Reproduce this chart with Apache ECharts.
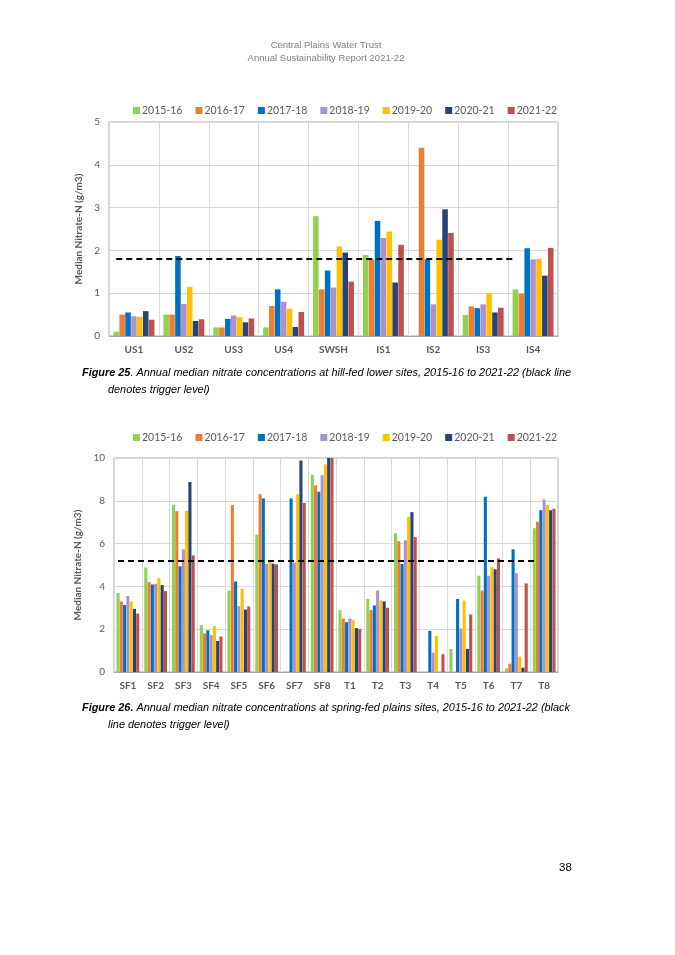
<!DOCTYPE html>
<html>
<head>
<meta charset="utf-8">
<script src="https://cdn.jsdelivr.net/npm/echarts@6/dist/echarts.min.js"></script>
<style>
html,body{margin:0;padding:0;background:#fff;}
#page{width:675px;height:955px;}
</style>
</head>
<body>
<div id="page"></div>
<script>
// ---- Data ----
const years = ['2015-16','2016-17','2017-18','2018-19','2019-20','2020-21','2021-22'];
const colors = ['#92D050','#ED7D31','#0070C0','#A993CF','#FFC000','#264478','#C0504D'];

// Figure 25: hill-fed lower sites
const sites1 = ['US1','US2','US3','US4','SWSH','IS1','IS2','IS3','IS4'];
const v1_2015 = [0.1, 0.5, 0.2, 0.2, 2.8, 1.89, null, 0.49, 1.09];
const v1_2016 = [0.5, 0.5, 0.2, 0.7, 1.09, 1.79, 4.4, 0.69, 0.99];
const v1_2017 = [0.55, 1.87, 0.4, 1.09, 1.53, 2.69, 1.79, 0.65, 2.05];
const v1_2018 = [0.46, 0.75, 0.48, 0.8, 1.13, 2.29, 0.74, 0.74, 1.79];
const v1_2019 = [0.45, 1.15, 0.44, 0.64, 2.09, 2.44, 2.25, 1.0, 1.8];
const v1_2020 = [0.58, 0.35, 0.32, 0.21, 1.95, 1.25, 2.96, 0.55, 1.41];
const v1_2021 = [0.38, 0.39, 0.41, 0.56, 1.27, 2.13, 2.41, 0.66, 2.06];
const trigger1 = 1.8;
const yTicks1 = {min: 0, max: 5, interval: 1};

// Figure 26: spring-fed plains sites
const sites2 = ['SF1','SF2','SF3','SF4','SF5','SF6','SF7','SF8','T1','T2','T3','T4','T5','T6','T7','T8'];
const v2_2015 = [3.69, 4.89, 7.81, 2.19, 3.8, 6.41, null, 9.22, 2.89, 3.41, 6.48, null, 1.08, 4.5, 0.17, 6.72];
const v2_2016 = [3.3, 4.2, 7.52, 1.8, 7.81, 8.31, null, 8.72, 2.5, 2.89, 6.11, null, null, 3.81, 0.39, 7.02];
const v2_2017 = [3.13, 4.09, 4.94, 1.95, 4.23, 8.11, 8.11, 8.42, 2.33, 3.11, 5.05, 1.92, 3.41, 8.19, 5.73, 7.56];
const v2_2018 = [3.55, 4.12, 5.73, 1.72, 3.08, 5.05, 5.12, 9.2, 2.5, 3.81, 6.16, 0.91, 2.03, 4.5, 4.62, 8.06];
const v2_2019 = [3.3, 4.38, 7.53, 2.14, 3.89, 5.16, 8.31, 9.7, 2.42, 3.34, 7.25, 1.69, 3.34, 4.89, 0.72, 7.81];
const v2_2020 = [2.95, 4.06, 8.88, 1.45, 2.92, 5.06, 9.88, 10.0, 2.05, 3.3, 7.47, null, 1.08, 4.8, 0.2, 7.56];
const v2_2021 = [2.73, 3.78, 5.45, 1.66, 3.06, 5.03, 7.9, 10.0, 2.02, 3.0, 6.3, 0.83, 2.69, 5.31, 4.14, 7.63];
const trigger2 = 5.2;
const yTicks2 = {min: 0, max: 10, interval: 2};

const data1 = [v1_2015, v1_2016, v1_2017, v1_2018, v1_2019, v1_2020, v1_2021];
const data2 = [v2_2015, v2_2016, v2_2017, v2_2018, v2_2019, v2_2020, v2_2021];

// ---- Chart ----
const chart = echarts.init(document.getElementById('page'), null, {renderer: 'canvas'});
const FONT = 'Lato, "Open Sans", sans-serif';
const axisGrey = '#595959';

function xAxisCfg(gridIndex, cats) {
  return {
    type: 'category', gridIndex, data: cats,
    axisLine: {show: true, lineStyle: {color: '#A6A6A6', width: 1}},
    axisTick: {show: false},
    axisLabel: {color: axisGrey, fontSize: 10, fontWeight: 'bold', fontFamily: FONT, margin: 9, interval: 0},
    splitLine: {show: true, interval: 0, lineStyle: {color: '#D9D9D9', width: 1}}
  };
}
function yAxisCfg(gridIndex, t) {
  return {
    type: 'value', gridIndex, min: t.min, max: t.max, interval: t.interval,
    name: 'Median Nitrate-N (g/m3)', nameLocation: 'middle', nameGap: 23,
    nameTextStyle: {color: axisGrey, fontSize: 10, fontWeight: 'bold', fontFamily: FONT},
    axisLine: {show: false}, axisTick: {show: false},
    axisLabel: {color: axisGrey, fontSize: 10, fontFamily: FONT, margin: 9},
    splitLine: {show: true, lineStyle: {color: '#D9D9D9', width: 1}}
  };
}

const series = [];
years.forEach((y, i) => {
  series.push({
    name: y, type: 'bar', xAxisIndex: 0, yAxisIndex: 0, data: data1[i],
    itemStyle: {color: colors[i]}, barGap: '6%', barCategoryGap: '18%'
  });
});
years.forEach((y, i) => {
  series.push({
    name: y, type: 'bar', xAxisIndex: 1, yAxisIndex: 1, data: data2[i],
    itemStyle: {color: colors[i]}, barGap: '6%', barCategoryGap: '18%'
  });
});
const mlStyle = {color: '#000', width: 2, type: [6, 4]};
series[0].markLine = {
  silent: true, symbol: 'none', label: {show: false}, lineStyle: mlStyle,
  data: [[{coord: [sites1[0], trigger1]}, {coord: [sites1[sites1.length - 1], trigger1]}]]
};
series[7].markLine = {
  silent: true, symbol: 'none', label: {show: false}, lineStyle: mlStyle,
  data: [[{coord: [sites2[0], trigger2]}, {coord: [sites2[sites2.length - 1], trigger2]}]]
};

const legendBase = {
  data: years, icon: 'rect', itemWidth: 7, itemHeight: 7, itemGap: 13,
  textStyle: {color: axisGrey, fontSize: 10.5, fontFamily: FONT, padding: [0, 0, 0, -3]}
};

const capFont = '"Liberation Sans", Arial, sans-serif';
const capStyle = {
  rich: {
    b: {fontFamily: capFont, fontSize: 10.9, fontStyle: 'italic', fontWeight: 'bold', fill: '#000'},
    n: {fontFamily: capFont, fontSize: 10.9, fontStyle: 'italic', fill: '#000'}
  }
};
const headFont = '"Liberation Sans Narrow", "Liberation Sans", Arial, sans-serif';

chart.setOption({
  animation: false,
  backgroundColor: '#fff',
  grid: [
    {left: 109, top: 122, width: 449, height: 214, show: true, borderColor: '#A6A6A6', borderWidth: 1},
    {left: 114, top: 458, width: 444, height: 214, show: true, borderColor: '#A6A6A6', borderWidth: 1}
  ],
  xAxis: [xAxisCfg(0, sites1), xAxisCfg(1, sites2)],
  yAxis: [yAxisCfg(0, yTicks1), yAxisCfg(1, yTicks2)],
  legend: [
    Object.assign({left: 128, top: 100}, legendBase),
    Object.assign({left: 128, top: 427}, legendBase)
  ],
  series,
  graphic: [
    {type: 'text', x: 326, y: 40, style: {text: 'Central Plains Water Trust', fill: '#808080', fontSize: 9.5, fontFamily: headFont, align: 'center'}},
    {type: 'text', x: 326, y: 53, style: {text: 'Annual Sustainability Report 2021-22', fill: '#808080', fontSize: 9.5, fontFamily: headFont, align: 'center'}},
    {type: 'text', left: 82, top: 367, style: Object.assign({text: '{b|Figure 25}{n|. Annual median nitrate concentrations at hill-fed lower sites, 2015-16 to 2021-22 (black line}'}, capStyle)},
    {type: 'text', left: 108, top: 384, style: Object.assign({text: '{n|denotes trigger level)}'}, capStyle)},
    {type: 'text', left: 82, top: 702, style: Object.assign({text: '{b|Figure 26.}{n| Annual median nitrate concentrations at spring-fed plains sites, 2015-16 to 2021-22 (black}'}, capStyle)},
    {type: 'text', left: 108, top: 719, style: Object.assign({text: '{n|line denotes trigger level)}'}, capStyle)},
    {type: 'text', left: 559, top: 862, style: {text: '38', fill: '#000', fontSize: 11.5, fontFamily: capFont}}
  ]
});
</script>
</body>
</html>
